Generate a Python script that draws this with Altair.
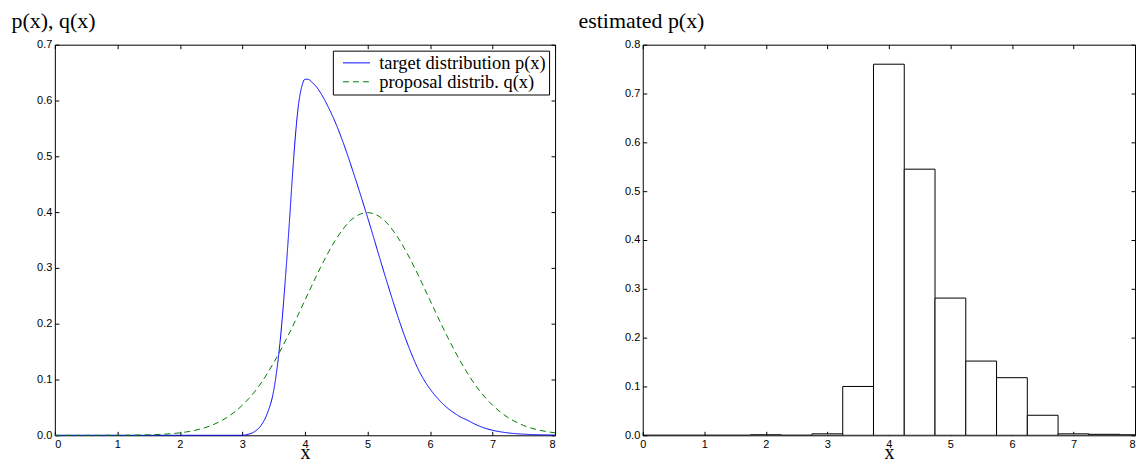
import altair as alt
import pandas as pd

# ---- data ----
SERIES = ["target distribution p(x)", "proposal distrib. q(x)"]

p_x = [0, 0.5, 1, 1.5, 2, 2.5, 3.0, 3.1, 3.2, 3.3, 3.4, 3.5, 3.6, 3.7, 3.75, 3.8, 3.85, 3.9, 3.95,
       4.0, 4.05, 4.1, 4.2, 4.3, 4.4, 4.5, 4.6, 4.7, 4.8, 4.9, 5.0, 5.1, 5.2, 5.3, 5.4,
       5.5, 5.6, 5.7, 5.8, 5.9, 6.0, 6.1, 6.2, 6.3, 6.4, 6.5, 6.6, 6.7, 6.8, 6.9, 7.0, 7.2, 7.5, 8.0]
p_y = [0, 0, 0, 0, 0, 0, 0, 0.002, 0.007, 0.018, 0.040, 0.080, 0.165, 0.300, 0.380, 0.465, 0.540, 0.595, 0.625,
       0.638, 0.638, 0.634, 0.622, 0.604, 0.582, 0.557, 0.528, 0.496, 0.462, 0.427, 0.391, 0.354, 0.316, 0.279, 0.243,
       0.208, 0.176, 0.147, 0.121, 0.100, 0.083, 0.069, 0.057, 0.047, 0.039, 0.032, 0.027, 0.021, 0.016, 0.012,
       0.009, 0.005, 0.002, 0.0005]

q_x = [0, 0.5, 1, 1.5, 2, 2.25, 2.5, 2.75, 3, 3.25, 3.5, 3.75, 4, 4.25, 4.5, 4.75, 5,
       5.25, 5.5, 5.75, 6, 6.25, 6.5, 6.75, 7, 7.25, 7.5, 7.75, 8]
q_y = [0.0, 0.00002, 0.00013, 0.0009, 0.0044, 0.0091, 0.0175, 0.0317, 0.054, 0.086, 0.13, 0.183, 0.242,
       0.301, 0.352, 0.387, 0.399, 0.387, 0.352, 0.301, 0.242, 0.183, 0.13, 0.086, 0.054, 0.0317,
       0.0175, 0.0091, 0.0044]

hist_center = [0, 0.5, 1, 1.5, 2, 2.5, 3, 3.5, 4, 4.5, 5, 5.5, 6, 6.5, 7, 7.5, 8]
hist_value = [0, 0, 0, 0, 0.001, 0, 0.003, 0.1, 0.76, 0.545, 0.281, 0.152, 0.118, 0.041, 0.003, 0.002, 0.001]
BIN_W = 0.5

x_ticks = [0, 1, 2, 3, 4, 5, 6, 7, 8]
y_ticks_left = [0, 0.1, 0.2, 0.3, 0.4, 0.5, 0.6, 0.7]
y_ticks_right = [0, 0.1, 0.2, 0.3, 0.4, 0.5, 0.6, 0.7, 0.8]

W1, W2, H = 502, 494, 392
SERIF = "Liberation Serif"
SANS = "Liberation Sans"

df_lines = pd.concat([
    pd.DataFrame({"x": p_x, "y": p_y, "s": SERIES[0]}),
    pd.DataFrame({"x": q_x, "y": q_y, "s": SERIES[1]}),
], ignore_index=True)

df_hist = pd.DataFrame({"c": hist_center, "v": hist_value})
df_hist["x0"] = df_hist["c"] - BIN_W / 2
df_hist["x1"] = df_hist["c"] + BIN_W / 2


def tick_layers(data, xf, yf, xscale, yscale, xvals, yvals, w, h):
    """Invisible layers that carry inward-pointing tick marks on all four sides."""
    common = dict(labels=False, domain=False, grid=False, ticks=True, tickSize=4,
                  tickColor="black", tickWidth=1, title=None)
    a = alt.Chart(data).mark_point(opacity=0).encode(
        x=alt.X(xf, scale=xscale, axis=alt.Axis(orient="top", offset=-h, values=xvals, **common)),
        y=alt.Y(yf, scale=yscale, axis=alt.Axis(orient="right", offset=-w, values=yvals, **common)),
    )
    b = alt.Chart(data).mark_point(opacity=0).encode(
        x=alt.X(xf, scale=xscale, axis=alt.Axis(orient="bottom", offset=-h, values=xvals, **common)),
        y=alt.Y(yf, scale=yscale, axis=alt.Axis(orient="left", offset=-w, values=yvals, **common)),
    )
    return [a, b]


def main_axes(xvals, yvals, ytitle, title_x, flush_last=False):
    extra = {}
    if flush_last:
        extra["labelAlign"] = {"condition": {"test": "datum.value >= 8", "value": "right"},
                               "value": "center"}
    xa = alt.Axis(orient="bottom", values=xvals, ticks=False, domain=False, grid=False,
                  labelPadding=3, title="x", titleFont=SERIF, titleFontSize=20,
                  titleFontWeight="normal", titleBaseline="alphabetic", titleY=23, **extra)
    ya = alt.Axis(orient="left", values=yvals, ticks=False, domain=False, grid=False,
                  labelPadding=3, title=ytitle, titleAngle=0, titleAlign="left",
                  titleBaseline="alphabetic", titleX=title_x, titleY=-17,
                  titleFont=SERIF, titleFontSize=22, titleFontWeight="normal")
    return xa, ya


# ---- left panel ----
xs1 = alt.Scale(domain=[0, 8], nice=False)
ys1 = alt.Scale(domain=[0, 0.7], nice=False)
xa1, ya1 = main_axes(x_ticks, y_ticks_left, "p(x), q(x)", -44)

leg = alt.Legend(title=None, orient="top-right", offset=6, labelLimit=0,
                 labelExpr="datum.label + '\u00a0\u00a0'")
lines = alt.Chart(df_lines).mark_line(strokeWidth=1, interpolate="monotone").encode(
    x=alt.X("x:Q", scale=xs1, axis=xa1),
    y=alt.Y("y:Q", scale=ys1, axis=ya1),
    color=alt.Color("s:N", scale=alt.Scale(domain=SERIES, range=["#0000ff", "#008000"]), legend=leg),
    strokeDash=alt.StrokeDash("s:N", scale=alt.Scale(domain=SERIES, range=[[1, 0], [6, 4]]), legend=leg),
)

left = alt.layer(
    lines, *tick_layers(df_lines, "x:Q", "y:Q", xs1, ys1, x_ticks, y_ticks_left, W1, H)
).resolve_axis(x="independent", y="independent").properties(width=W1, height=H)

# ---- right panel ----
xs2 = alt.Scale(domain=[0, 8], nice=False)
ys2 = alt.Scale(domain=[0, 0.8], nice=False)
xa2, ya2 = main_axes(x_ticks, y_ticks_right, "estimated p(x)", -65, flush_last=True)

bars = alt.Chart(df_hist).mark_rect(fill="white", stroke="black", strokeWidth=1, clip=True).encode(
    x=alt.X("x0:Q", scale=xs2, axis=xa2),
    x2="x1:Q",
    y=alt.Y("v:Q", scale=ys2, axis=ya2),
    y2=alt.Y2(datum=0),
)

right = alt.layer(
    bars, *tick_layers(df_hist, "x0:Q", "v:Q", xs2, ys2, x_ticks, y_ticks_right, W2, H)
).resolve_axis(x="independent", y="independent").properties(width=W2, height=H)

chart = alt.hconcat(left, right, spacing=18).resolve_legend(
    color="independent", strokeDash="independent"
).properties(
    padding={"left": 2, "top": 0, "right": 0, "bottom": 0}
).configure_view(
    stroke="black", strokeWidth=1
).configure_axis(
    labelFont=SANS, labelFontSize=11, labelColor="black"
).configure_legend(
    strokeColor="black", fillColor="white", padding=3,
    labelFont=SERIF, labelFontSize=18.5, labelColor="black", labelOffset=13.5,
    symbolType="M-1.7,0H1.7", symbolSize=256, symbolStrokeWidth=1, symbolOffset=11.5,
    rowPadding=-1, cornerRadius=0,
)

chart.save("out.html", embed_options={"renderer": "svg", "actions": False})
